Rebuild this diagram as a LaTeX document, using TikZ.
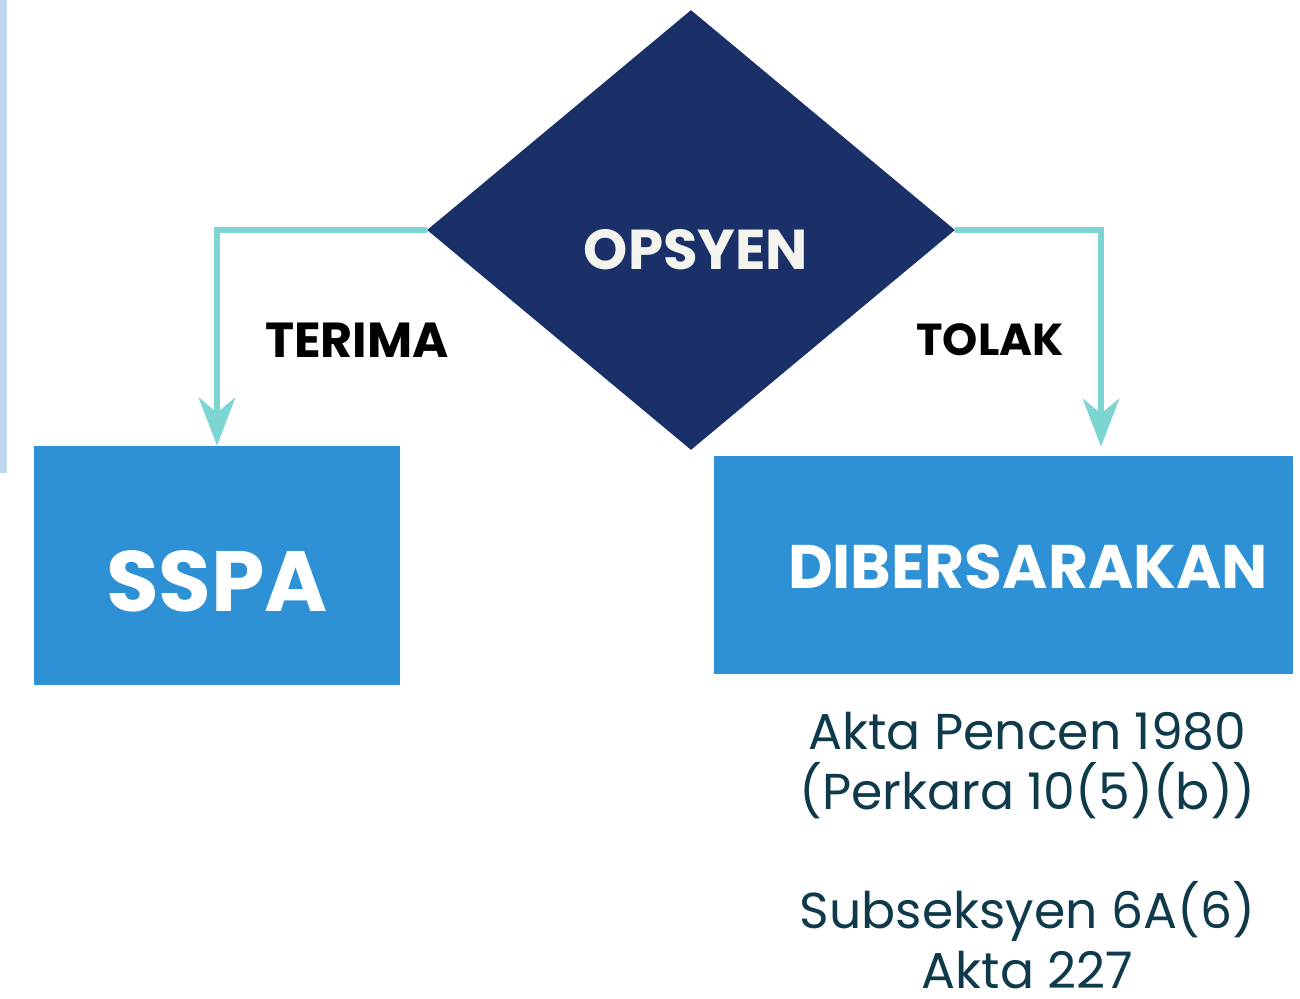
\documentclass[tikz,border=0pt]{standalone}
\usepackage{fontspec}
\setmainfont{Poppins}
\usepackage{tikz}
\usetikzlibrary{arrows.meta, shapes.geometric}

\definecolor{navy}{HTML}{1B3069}
\definecolor{boxblue}{HTML}{2E91D5}
\definecolor{arrteal}{HTML}{7DD5D2}
\definecolor{barblue}{HTML}{BDD7EE}
\definecolor{notetext}{HTML}{0E3A4B}
\definecolor{offwhite}{HTML}{F3F4EE}

\begin{document}
\begin{tikzpicture}[
    every node/.style={align=center, inner sep=0pt},
    choice/.style ={diamond, fill=navy, minimum width=10.56cm, minimum height=8.8cm},
    result/.style ={rectangle, fill=boxblue},
    choicetext/.style={font=\bfseries\fontsize{32}{38}\selectfont, text=offwhite},
    resulttext/.style={font=\bfseries\fontsize{48.7}{58}\selectfont, text=white},
    elabel/.style={font=\bfseries\fontsize{28}{34}\selectfont, text=black},
    note/.style={font=\fontsize{28.7}{34}\selectfont, text=notetext},
    arr/.style={-{Stealth[length=0.96cm, width=0.73cm, inset=0.3cm]},
                line width=3.4pt, draw=arrteal}
]
\useasboundingbox (0,0) rectangle (26,-19.98);
\fill[barblue] (0,0) rectangle (0.15,-9.46);

\node[choice] (opsyen) at (13.82,-4.6) {};
\node[choicetext] (opsyenlbl) at ([xshift=0.1cm, yshift=-0.39cm]opsyen.center) {OPSYEN};

\node[result, minimum width=7.32cm, minimum height=4.78cm] (sspa) at (4.34,-11.31) {};
\node[resulttext] (sspalbl) at (4.34,-11.62) {SSPA};

\node[result, minimum width=11.58cm, minimum height=4.36cm] (bersara) at (20.07,-11.3) {};
\node[resulttext, font=\bfseries\fontsize{35}{42}\selectfont] (bersaralbl) at (20.56,-11.33) {DIBERSARAKAN};

\node[elabel] (terima) at (7.14,-6.8) {TERIMA};
\node[elabel, font=\bfseries\fontsize{25.5}{31}\selectfont] (tolak) at (19.8,-6.8) {TOLAK};

\node[note, anchor=north] (akta) at (20.55,-14.24)
    {Akta Pencen 1980\\(Perkara 10(5)(b))\\[34pt]Subseksyen 6A(6)\\Akta 227};

\coordinate (tolakend) at ([xshift=1.95cm, yshift=0.18cm]bersara.north);

\draw[arr] (opsyen.west) -| (sspa.north);
\draw[arr] (opsyen.east) -| (tolakend);
\end{tikzpicture}
\end{document}
